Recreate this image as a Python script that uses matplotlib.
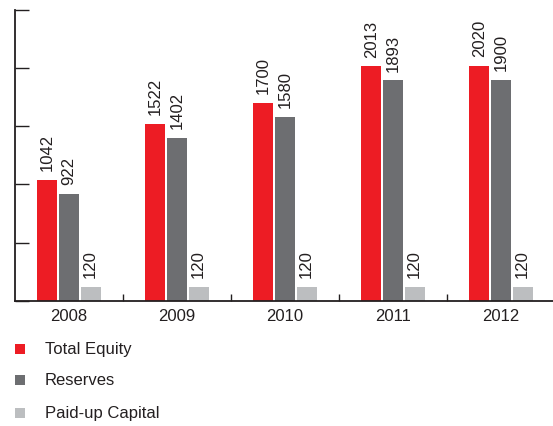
import matplotlib
matplotlib.use("Agg")
import matplotlib.pyplot as plt
from matplotlib.patches import Rectangle
import numpy as np

years = ["2008", "2009", "2010", "2011", "2012"]
total_equity = [1042, 1522, 1700, 2013, 2020]
reserves = [922, 1402, 1580, 1893, 1900]
paid_up = [120, 120, 120, 120, 120]
series_names = ["Total Equity", "Reserves", "Paid-up Capital"]
colors = ["#ED1C24", "#6D6E71", "#BCBEC0"]

plt.rcParams['font.family'] = ['Liberation Sans', 'DejaVu Sans']
W, H = 553, 427
fig = plt.figure(figsize=(W / 100, H / 100), dpi=100)
left, right, bottom, top = 15, 555, 302, 10.7
ax = fig.add_axes([left / W, 1 - bottom / H, (right - left) / W, (bottom - top) / H])

x = np.arange(len(years))
offsets = [-0.2, 0.0, 0.2]
width = 0.185
fs = 12
for vals, off, col in zip([total_equity, reserves, paid_up], offsets, colors):
    bars = ax.bar(x + off, vals, width=width, color=col, linewidth=0)
    for b, v in zip(bars, vals):
        ax.annotate(str(v), (b.get_x() + b.get_width() / 2, v), xytext=(0, 7),
                    textcoords="offset points", rotation=90, ha="center",
                    va="bottom", fontsize=fs, color="#231F20")

ax.set_xlim(-0.5, len(years) - 0.5)
ax.set_ylim(0, 2500)
ax.set_yticks(np.arange(0, 2501, 500))
ax.set_yticklabels([])
ax.tick_params(axis="y", direction="in", length=10, width=1.0, color="#231F20")
ax.set_xticks(np.arange(0.5, len(years) - 1, 1.0))
ax.set_xticklabels([])
ax.tick_params(axis="x", which="major", direction="in", length=5, width=1.0, color="#231F20")
ax.set_xticks(x, minor=True)
ax.set_xticklabels(years, minor=True, fontsize=fs, color="#231F20")
ax.tick_params(axis="x", which="minor", length=0, pad=5)
for s in ["top", "right"]:
    ax.spines[s].set_visible(False)
for s in ["left", "bottom"]:
    ax.spines[s].set_color("#231F20")
    ax.spines[s].set_linewidth(1.3)

# legend
rows_y = [350, 381, 414]
for name, col, yy in zip(series_names, colors, rows_y):
    fig.add_artist(Rectangle((15 / W, 1 - (yy + 5) / H), 10 / W, 10 / H,
                             transform=fig.transFigure, color=col, linewidth=0))
    fig.text(45 / W, 1 - yy / H, name, fontsize=fs, va="center", ha="left", color="#231F20")

fig.savefig("out.png", dpi=100)
